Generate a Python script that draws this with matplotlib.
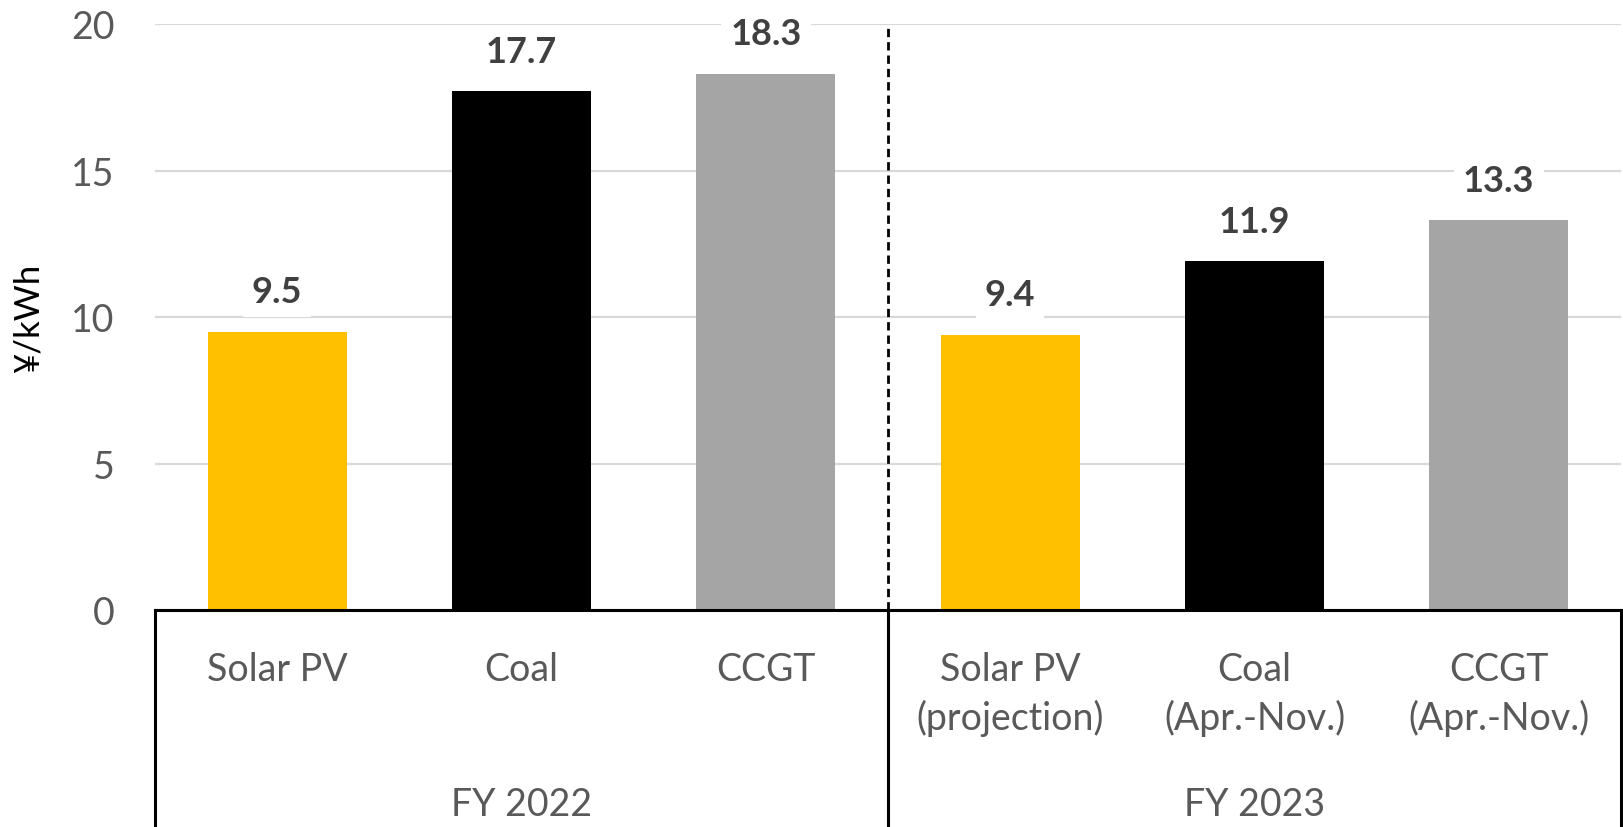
import matplotlib
matplotlib.use("Agg")
import matplotlib.pyplot as plt
import matplotlib.transforms as mtransforms

plt.rcParams['font.family'] = ['Lato', 'DejaVu Sans']

categories = ["Solar PV", "Coal", "CCGT",
              "Solar PV\n(projection)", "Coal\n(Apr.-Nov.)", "CCGT\n(Apr.-Nov.)"]
values = [9.5, 17.7, 18.3, 9.4, 11.9, 13.3]
colors = ["#FFC000", "#000000", "#A5A5A5", "#FFC000", "#000000", "#A5A5A5"]
groups = ["FY 2022", "FY 2023"]
group_size = 3
yticks = [0, 5, 10, 15, 20]
ylabel = "¥/kWh"

W, H = 1624, 828
fig = plt.figure(figsize=(W / 100, H / 100), dpi=100)
left, right, top, bottom = 155, 1621, 25, 611
ax = fig.add_axes([left / W, 1 - bottom / H, (right - left) / W, (bottom - top) / H])

x = list(range(len(categories)))
ax.bar(x, values, width=0.57, color=colors, zorder=2)
ax.set_xlim(-0.5, len(categories) - 0.5)
ax.set_ylim(0, 20)
ax.set_yticks(yticks)
ax.yaxis.grid(True, color="#D9D9D9", linewidth=1.6, zorder=0)
ax.set_axisbelow(True)
for s in ["left", "right", "top"]:
    ax.spines[s].set_visible(False)
ax.spines["bottom"].set_linewidth(2.2)
ax.spines["bottom"].set_color("black")
ax.spines["bottom"].set_zorder(3)
ax.tick_params(axis="y", length=0, pad=29, labelsize=27, labelcolor="#595959")
ax.tick_params(axis="x", length=0, labelbottom=False)
ax.set_ylabel(ylabel, fontsize=25, color="black")
ax.yaxis.set_label_coords(-(left - 45) / (right - left), 0.5)

# value labels
for xi, v in zip(x, values):
    ax.annotate(f"{v:.1f}", (xi, v), xytext=(0, 40), textcoords="offset pixels",
                ha="center", va="center", fontsize=26, fontweight="bold",
                color="#404040",
                bbox=dict(boxstyle="square,pad=0.25", fc="white", ec="none"),
                zorder=4)

# category labels
trans = mtransforms.blended_transform_factory(ax.transData, ax.transAxes)
axh = bottom - top
for xi, lab in zip(x, categories):
    ax.text(xi, -(652 - bottom) / axh, lab, transform=trans, ha="center", va="top",
            fontsize=27, color="#595959", linespacing=1.4, clip_on=False)

# group labels
for gi, g in enumerate(groups):
    cx = gi * group_size + (group_size - 1) / 2
    ax.text(cx, -(805 - bottom) / axh, g, transform=trans, ha="center", va="center",
            fontsize=27, color="#595959", clip_on=False)

# separators below the axis
ybot = -(H - bottom) / axh
for gi in range(len(groups) + 1):
    xs = gi * group_size - 0.5
    ax.plot([xs, xs], [0, ybot - 0.02], transform=trans, color="black",
            linewidth=2.2, clip_on=False, zorder=3)

# dashed divider above axis
for gi in range(1, len(groups)):
    xs = gi * group_size - 0.5
    ax.plot([xs, xs], [0, 1], transform=trans, color="black", linewidth=2.0,
            linestyle=(0, (3, 1.8)), clip_on=False, zorder=3)

fig.savefig("out.png", dpi=100)
